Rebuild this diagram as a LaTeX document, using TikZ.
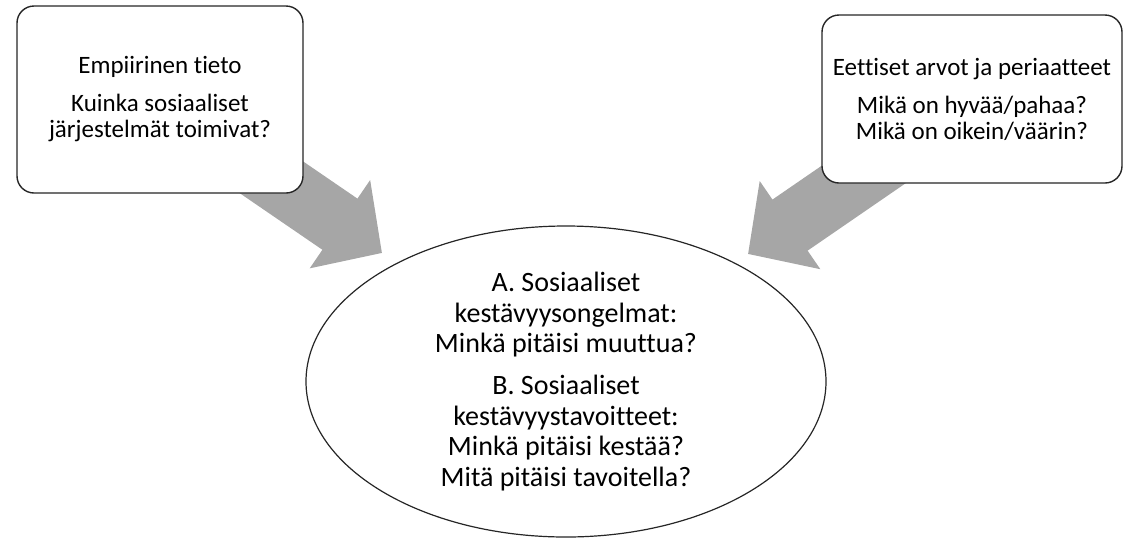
\documentclass[tikz,border=0pt]{standalone}
\usepackage{fontspec}
\setmainfont{Carlito}[Ligatures=NoCommon]
\usetikzlibrary{arrows.meta,shapes.geometric}
\definecolor{nuolenharmaa}{RGB}{166,166,166}
\begin{document}
\begin{tikzpicture}[x=1pt, y=-1pt, line join=round,
    laatikko/.style={draw=black!85, line width=1.4pt, fill=white, rounded corners=17pt,
      align=center, inner sep=0pt, font=\fontsize{25}{26}\selectfont},
    kupla/.style={ellipse, draw=black!85, line width=1.2pt, fill=white, inner sep=0pt,
      minimum width=520pt, minimum height=311pt, align=center, font=\fontsize{28}{30.5}\selectfont},
    nuoli/.style={draw=nuolenharmaa, line width=62pt, -{Triangle[length=51pt, width=104pt]}}]
  \useasboundingbox (0,0) rectangle (1133,539);
  \coordinate (vasenkarki) at (382,253);
  \coordinate (oikeakarki) at (748,254);
  % nuolet laatikoiden alle
  \path (160,101) coordinate (empiriakeski) (972,100) coordinate (etiikkakeski);
  \draw[nuoli] (empiriakeski) -- (vasenkarki);
  \draw[nuoli] (etiikkakeski) -- (oikeakarki);
  \node[laatikko, minimum width=286pt, minimum height=187pt] (empiria) at (160,99.5)
    {Empiirinen tieto\\[12pt] Kuinka sosiaaliset\\ järjestelmät toimivat?};
  \node[laatikko, minimum width=300pt, minimum height=168pt] (etiikka) at (972,99)
    {Eettiset arvot ja periaatteet\\[12pt] Mikä on hyvää/pahaa?\\ Mikä on oikein/väärin?};
  \node[kupla] (kestavyys) at (566,381.5)
    {A. Sosiaaliset\\ kestävyysongelmat:\\ Minkä pitäisi muuttua?\\[11.5pt]
     B. Sosiaaliset\\ kestävyystavoitteet:\\ Minkä pitäisi kestää?\\ Mitä pitäisi tavoitella?};
\end{tikzpicture}
\end{document}
